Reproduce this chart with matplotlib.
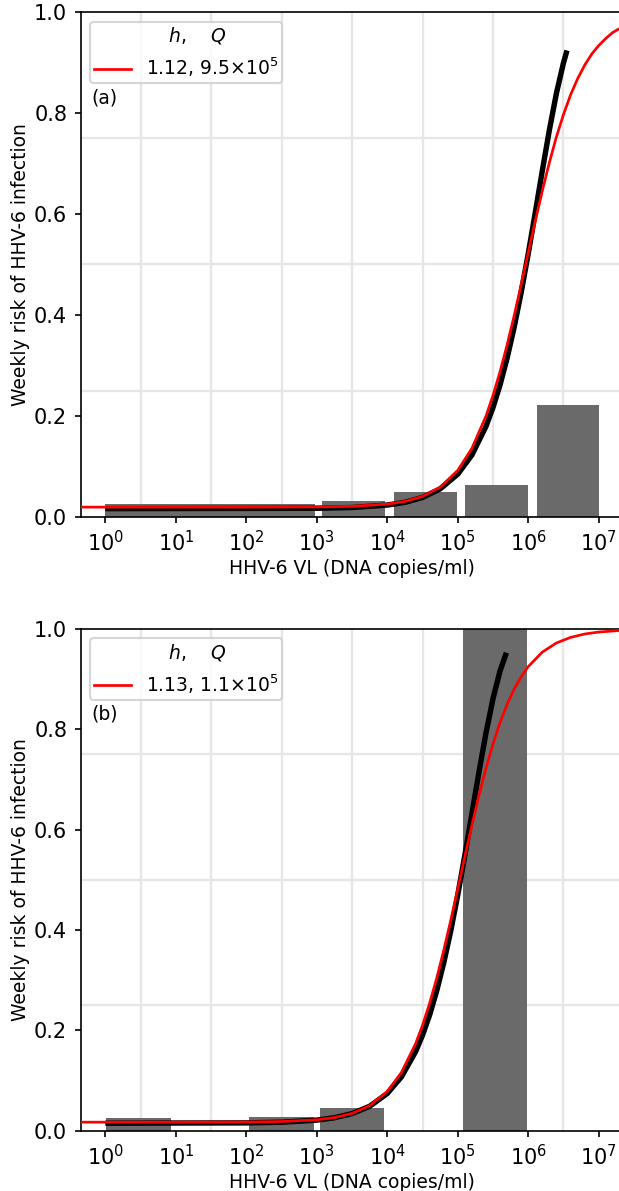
import numpy as np
import matplotlib
matplotlib.use("Agg")
import matplotlib.pyplot as plt

# ---------------- data ----------------
# Panel (a)
a_bar_left = [1.0, 10**3.07, 10**4.09, 10**5.10, 10**6.12]
a_bar_right = [10**2.98, 10**3.97, 10**4.99, 10**6.00, 10**7.00]
a_bar_height = [0.025, 0.032, 0.048, 0.062, 0.221]

a_red_logx = [-0.35, 1, 2, 3, 3.5, 4, 4.25, 4.5, 4.75, 5, 5.2, 5.4, 5.5, 5.6, 5.7,
              5.8, 5.9, 6.0, 6.1, 6.2, 6.3, 6.4, 6.5, 6.6, 6.7, 6.8, 6.9, 7.0,
              7.1, 7.2, 7.35]
a_red_y = [0.019, 0.019, 0.019, 0.0194, 0.0206, 0.0250, 0.0303, 0.0403, 0.0586,
           0.0919, 0.1354, 0.1994, 0.2405, 0.2877, 0.3407, 0.3986, 0.4605, 0.5235,
           0.5864, 0.6464, 0.7023, 0.7533, 0.7973, 0.8362, 0.8682, 0.8951, 0.9171,
           0.9341, 0.9481, 0.9601, 0.9721]

a_black_logx = [0, 3, 3.5, 4, 4.25, 4.5, 4.75, 5, 5.2, 5.4, 5.5, 5.6, 5.7, 5.8,
                5.9, 6.0, 6.1, 6.2, 6.3, 6.4, 6.5, 6.55]
a_black_y = [0.016, 0.0167, 0.0182, 0.0231, 0.0285, 0.0382, 0.0551, 0.0844, 0.1222,
             0.1790, 0.2166, 0.2614, 0.3144, 0.3756, 0.4450, 0.5216, 0.6031, 0.6863,
             0.7668, 0.8396, 0.8999, 0.9244]

a_label = "1.12, $9.5{\\times}10^5$"

# Panel (b)
b_bar_left = [10**0.01, 10**2.04, 10**3.05, 10**5.07]
b_bar_right = [10**0.93, 10**2.96, 10**3.95, 10**5.98]
b_bar_height = [0.025, 0.028, 0.045, 1.0]

b_red_logx = [-0.35, 1, 2, 2.5, 3, 3.25, 3.5, 3.75, 4.0, 4.2, 4.4, 4.5, 4.6, 4.7,
              4.8, 4.9, 5.0, 5.1, 5.2, 5.3, 5.4, 5.5, 5.6, 5.7, 5.8, 5.9, 6.0,
              6.2, 6.4, 6.6, 6.8, 7.0, 7.35]
b_red_y = [0.017, 0.017, 0.0174, 0.0183, 0.0218, 0.0262, 0.0345, 0.0500, 0.0783,
           0.1160, 0.1729, 0.2101, 0.2537, 0.3034, 0.3590, 0.4190, 0.4820, 0.5459,
           0.6084, 0.6679, 0.7225, 0.7713, 0.8137, 0.8498, 0.8801, 0.9049, 0.9251,
           0.9540, 0.9722, 0.9832, 0.9900, 0.9940, 0.9976]

b_black_logx = [0, 2, 2.5, 3, 3.25, 3.5, 3.75, 4.0, 4.2, 4.4, 4.5, 4.6, 4.7, 4.8,
                4.9, 5.0, 5.1, 5.2, 5.3, 5.4, 5.5, 5.6, 5.69]
b_black_y = [0.015, 0.0156, 0.0169, 0.0211, 0.0258, 0.0341, 0.0487, 0.0742, 0.1072,
             0.1571, 0.1904, 0.2304, 0.2781, 0.3339, 0.3981, 0.4701, 0.5487, 0.6313,
             0.7141, 0.7925, 0.8613, 0.9165, 0.9527]

b_label = "1.13, $1.1{\\times}10^5$"

panel_tags = ["(a)", "(b)"]
legend_title = "    $h$,    $Q$"
xtick_exps = [0, 1, 2, 3, 4, 5, 6, 7]
ytick_vals = [0.0, 0.2, 0.4, 0.6, 0.8, 1.0]
grid_x_exps = [0.5, 1.5, 2.5, 3.5, 4.5, 5.5, 6.5]
grid_y_vals = [0.25, 0.5, 0.75]

# ---------------- figure ----------------
W, H = 619, 1191
dpi = 150
fig = plt.figure(figsize=(W / dpi, H / dpi), dpi=dpi)

def px_axes(left, top, right, bottom):
    return [left / W, 1 - bottom / H, (right - left) / W, (bottom - top) / H]

ax_a = fig.add_axes(px_axes(80.7, 12.3, 623.4, 516.7))
ax_b = fig.add_axes(px_axes(80.7, 629.0, 623.4, 1130.7))

panels = [
    (ax_a, a_bar_left, a_bar_right, a_bar_height, a_red_logx, a_red_y,
     a_black_logx, a_black_y, a_label),
    (ax_b, b_bar_left, b_bar_right, b_bar_height, b_red_logx, b_red_y,
     b_black_logx, b_black_y, b_label),
]

for i, (ax, bl, br, bh, rlx, ry, klx, ky, lab) in enumerate(panels):
    ax.set_xscale("log")
    ax.set_xlim(10**-0.35, 10**7.35)
    ax.set_ylim(0, 1)

    for gx in grid_x_exps:
        ax.axvline(10**gx, color="#e6e6e6", lw=1.1, zorder=0)
    for gy in grid_y_vals:
        ax.axhline(gy, color="#e6e6e6", lw=1.1, zorder=0)

    widths = [r - l for l, r in zip(bl, br)]
    ax.bar(bl, bh, width=widths, align="edge", color="#6a6a6a",
           edgecolor="none", zorder=1)

    ax.plot([10**v for v in klx], ky, color="black", lw=2.6,
            solid_capstyle="butt", solid_joinstyle="round", zorder=2)
    ax.plot([10**v for v in rlx], ry, color="red", lw=1.3, zorder=3,
            solid_joinstyle="round", label=lab)

    ax.set_xticks([10**e for e in xtick_exps])
    ax.set_xticklabels([f"$10^{{{e}}}$" for e in xtick_exps])
    ax.xaxis.set_minor_locator(matplotlib.ticker.NullLocator())
    ax.set_yticks(ytick_vals)
    ax.set_yticklabels([f"{v:.1f}" for v in ytick_vals])
    ax.tick_params(labelsize=10, length=3, width=0.8)

    ax.set_xlabel("HHV-6 VL (DNA copies/ml)", fontsize=9, labelpad=1.5)
    ax.set_ylabel("Weekly risk of HHV-6 infection", fontsize=9, labelpad=2)

    leg = ax.legend(loc="upper left", title=legend_title, fontsize=9,
                    title_fontsize=9, borderpad=0.2)
    ax.text(0.019, 0.83, panel_tags[i], transform=ax.transAxes, fontsize=9,
            ha="left", va="center")

fig.savefig("out.png", dpi=dpi)
